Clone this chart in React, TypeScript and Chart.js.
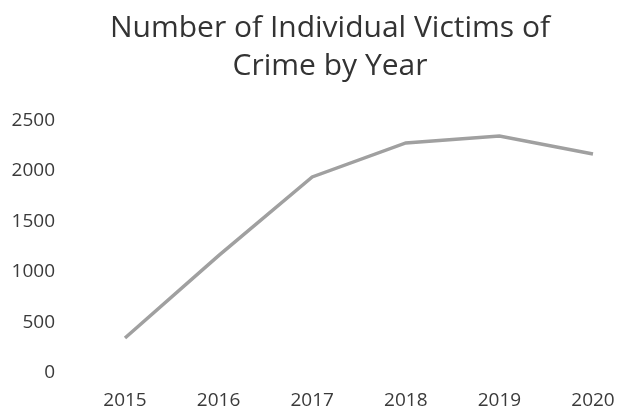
import React, { useEffect, useRef } from "react";
import { Chart, registerables } from "chart.js";

Chart.register(...registerables);

const titleLines = ["Number of Individual Victims of", "Crime by Year"];
const years = ["2015", "2016", "2017", "2018", "2019", "2020"];
const victims = [342, 1160, 1940, 2277, 2346, 2168];
const yMin = 0;
const yMax = 2500;
const yStep = 500;

const FONT = "'Open Sans', Lato, sans-serif";

const titlePlugin = {
  id: "twoLineTitle",
  afterDraw(chart: any) {
    const ctx = chart.ctx;
    ctx.save();
    ctx.font = `normal 30px ${FONT}`;
    ctx.fillStyle = "#333333";
    ctx.textAlign = "center";
    ctx.textBaseline = "alphabetic";
    titleLines.forEach((line, i) => {
      ctx.fillText(line, 330, 37 + i * 38);
    });
    ctx.restore();
  },
};

export default function App() {
  const ref = useRef<HTMLCanvasElement | null>(null);

  useEffect(() => {
    document.body.style.margin = "0";
    const canvas = ref.current;
    if (!canvas) return;
    const chart = new Chart(canvas, {
      type: "line",
      data: {
        labels: years,
        datasets: [
          {
            data: victims,
            borderColor: "#a0a0a0",
            borderWidth: 3.5,
            pointRadius: 0,
            tension: 0,
            fill: false,
          },
        ],
      },
      options: {
        animation: false,
        responsive: false,
        layout: { padding: { left: 0, right: 27, top: 120.5, bottom: 0 } },
        plugins: {
          legend: { display: false },
          tooltip: { enabled: false },
          title: { display: false },
        },
        scales: {
          x: {
            offset: false,
            grid: { display: false, drawTicks: false },
            border: { display: false },
            ticks: {
              color: "#3a3a3a",
              font: { family: FONT, size: 19 },
              padding: 17,
              maxRotation: 0,
              autoSkip: false,
            },
            afterFit: (s: any) => {
              s.height = 35.5;
              s.paddingLeft = 0;
              s.paddingRight = 0;
            },
          },
          y: {
            min: yMin,
            max: yMax,
            grid: { display: false, drawTicks: false },
            border: { display: false },
            ticks: {
              stepSize: yStep,
              color: "#3a3a3a",
              font: { family: FONT, size: 19 },
              padding: 70,
              callback: (v: any) => String(v),
            },
            afterFit: (s: any) => {
              s.width = 125;
              s.paddingTop = 10;
              s.paddingBottom = 10;
            },
          },
        },
      },
      plugins: [titlePlugin],
    });
    return () => chart.destroy();
  }, []);

  return (
    <div style={{ width: 620, height: 408 }}>
      <canvas ref={ref} width={620} height={408} style={{ display: "block" }} />
    </div>
  );
}
